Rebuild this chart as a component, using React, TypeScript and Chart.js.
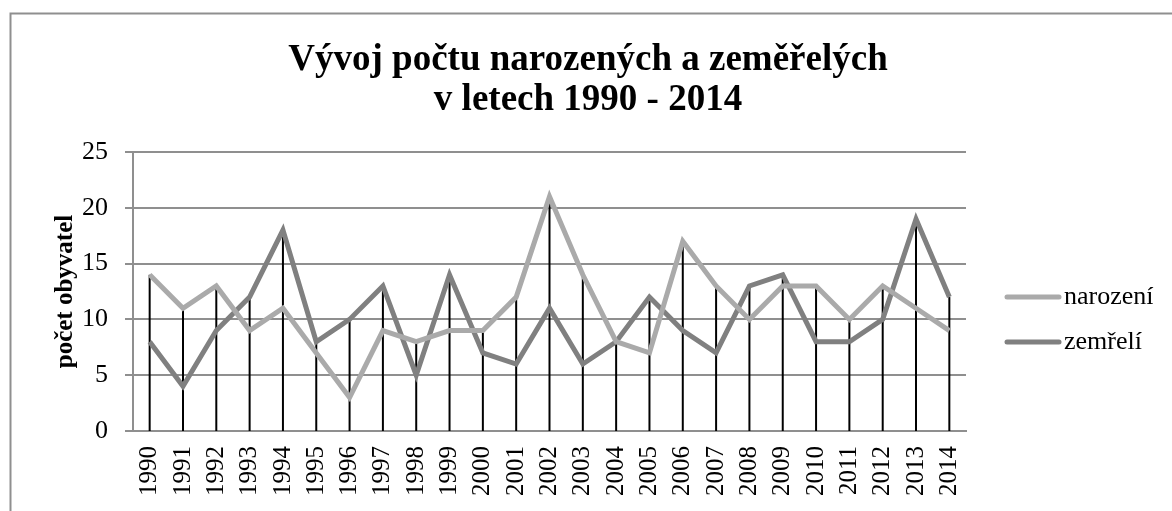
import React, { useEffect, useRef } from "react";
import { Chart, registerables } from "chart.js";

Chart.register(...registerables);

const years = ["1990","1991","1992","1993","1994","1995","1996","1997","1998","1999","2000","2001","2002","2003","2004","2005","2006","2007","2008","2009","2010","2011","2012","2013","2014"];
const narozeni = [14, 11, 13, 9, 11, 7, 3, 9, 8, 9, 9, 12, 21, 14, 8, 7, 17, 13, 10, 13, 13, 10, 13, 11, 9];
const zemreli = [8, 4, 9, 12, 18, 8, 10, 13, 5, 14, 7, 6, 11, 6, 8, 12, 9, 7, 13, 14, 8, 8, 10, 19, 12];
const yTicks = [0, 5, 10, 15, 20, 25];
const titleLines = ["Vývoj počtu narozených a zeměřelých", "v letech 1990 - 2014"];
const yTitle = "počet obyvatel";
const seriesNames = ["narození", "zemřelí"];
const seriesColors = ["#aaaaaa", "#808080"];

const FONT = "'Liberation Serif', 'Times New Roman', serif";

const framePlugin = {
  id: "frame",
  beforeDraw(chart: any) {
    const ctx = chart.ctx;
    ctx.save();
    ctx.fillStyle = "#ffffff";
    ctx.fillRect(0, 0, chart.width, chart.height);
    ctx.strokeStyle = "#8f8f8f";
    ctx.lineWidth = 2;
    ctx.strokeRect(10.5, 13.5, 3000, 3000);
    ctx.restore();
  },
};

const titlePlugin = {
  id: "customTitle",
  afterDraw(chart: any) {
    const ctx = chart.ctx;
    ctx.save();
    ctx.font = `bold 37px ${FONT}`;
    ctx.fillStyle = "#000000";
    ctx.textAlign = "center";
    ctx.textBaseline = "middle";
    const cx = 588;
    titleLines.forEach((t, i) => {
      ctx.fillText(t, cx, 60 + i * 40);
    });
    ctx.restore();
  },
};

const dropLinesPlugin = {
  id: "dropLines",
  beforeDatasetsDraw(chart: any) {
    const ctx = chart.ctx;
    const xs = chart.scales.x;
    const ys = chart.scales.y;
    const a = chart.data.datasets[0].data as number[];
    const b = chart.data.datasets[1].data as number[];
    ctx.save();
    ctx.strokeStyle = "#000000";
    ctx.lineWidth = 2;
    for (let i = 0; i < a.length; i++) {
      const x = xs.getPixelForValue(i);
      const top = ys.getPixelForValue(Math.max(a[i], b[i]));
      const bottom = ys.getPixelForValue(0);
      ctx.beginPath();
      ctx.moveTo(x, top);
      ctx.lineTo(x, bottom);
      ctx.stroke();
    }
    ctx.restore();
  },
};

const legendPlugin = {
  id: "customLegend",
  afterDraw(chart: any) {
    const ctx = chart.ctx;
    const ds = chart.data.datasets;
    const x0 = 1007;
    const x1 = 1059;
    ctx.save();
    ctx.font = `26px ${FONT}`;
    ctx.textBaseline = "middle";
    ctx.textAlign = "left";
    ds.forEach((d: any, i: number) => {
      const y = 297 + i * 45;
      ctx.strokeStyle = d.borderColor;
      ctx.lineWidth = 5;
      ctx.lineCap = "round";
      ctx.beginPath();
      ctx.moveTo(x0, y);
      ctx.lineTo(x1, y);
      ctx.stroke();
      ctx.fillStyle = "#000000";
      ctx.fillText(d.label, x1 + 5, y);
    });
    ctx.restore();
  },
};

export default function App() {
  const ref = useRef<HTMLCanvasElement | null>(null);
  useEffect(() => {
    if (!ref.current) return;
    const chart = new Chart(ref.current, {
      type: "line",
      data: {
        labels: years,
        datasets: [
          {
            label: seriesNames[0],
            data: narozeni,
            borderColor: seriesColors[0],
            backgroundColor: seriesColors[0],
            borderWidth: 5,
            pointRadius: 0,
            tension: 0,
          },
          {
            label: seriesNames[1],
            data: zemreli,
            borderColor: seriesColors[1],
            backgroundColor: seriesColors[1],
            borderWidth: 5,
            pointRadius: 0,
            tension: 0,
          },
        ],
      },
      options: {
        responsive: false,
        animation: false,
        layout: { padding: { left: 0, right: 206, top: 152, bottom: 0 } },
        plugins: {
          legend: { display: false },
          tooltip: { enabled: false },
          title: { display: false },
        },
        scales: {
          x: {
            offset: true,
            grid: { display: false, drawTicks: false },
            border: { display: true, color: "#8f8f8f", width: 2 },
            ticks: {
              color: "#000000",
              font: { family: FONT, size: 25 },
              minRotation: 90,
              maxRotation: 90,
              autoSkip: false,
              padding: 15,
            },
            afterFit: (scale: any) => {
              scale.height = 80;
            },
          },
          y: {
            min: 0,
            max: 25,
            afterBuildTicks: (scale: any) => {
              scale.ticks = yTicks.map((v) => ({ value: v }));
            },
            grid: { color: "#8f8f8f", lineWidth: 2, tickLength: 8, drawTicks: true },
            border: { display: true, color: "#8f8f8f", width: 2 },
            ticks: {
              color: "#000000",
              font: { family: FONT, size: 26 },
              padding: 17,
            },
            title: {
              display: true,
              text: yTitle,
              color: "#000000",
              font: { family: FONT, size: 25, weight: "bold" },
              padding: { top: 51, bottom: 0 },
            },
            afterFit: (scale: any) => {
              scale.width = 133;
            },
          },
        },
      },
      plugins: [framePlugin, dropLinesPlugin, legendPlugin, titlePlugin],
    });
    return () => chart.destroy();
  }, []);
  return (
    <div style={{ position: "absolute", left: 0, top: 0, width: 1172, height: 511 }}>
      <canvas ref={ref} width={1172} height={511} style={{ display: "block" }} />
    </div>
  );
}
